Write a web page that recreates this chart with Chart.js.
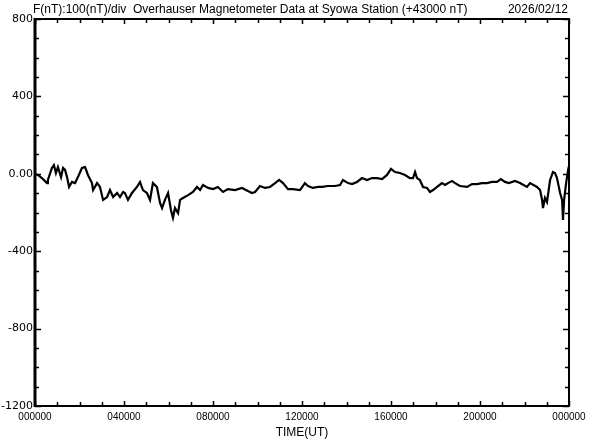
<!DOCTYPE html>
<html>
<head>
<meta charset="utf-8">
<script src="https://cdn.jsdelivr.net/npm/chart.js@4.4.1/dist/chart.umd.min.js"></script>
<style>
  html, body { margin: 0; padding: 0; background: #fff; }
  #wrap { width: 592px; height: 440px; }
</style>
</head>
<body>
<div id="wrap"><canvas id="magChart" width="592" height="440"></canvas></div>
<script>
// Time of day in hours (UT)
const hours = [
  0.00, 0.13, 0.31, 0.54, 0.58, 0.76, 0.85, 0.94, 1.03, 1.17,
  1.26, 1.35, 1.44, 1.53, 1.66, 1.80, 1.93, 2.11, 2.25, 2.38,
  2.56, 2.61, 2.79, 2.92, 3.06, 3.24, 3.37, 3.51, 3.69, 3.82,
  3.96, 4.04, 4.18, 4.36, 4.58, 4.72, 4.85, 5.03, 5.17, 5.30,
  5.48, 5.62, 5.71, 5.84, 5.98, 6.11, 6.20, 6.29, 6.43, 6.52,
  6.65, 6.88, 7.10, 7.28, 7.42, 7.55, 7.78, 8.00, 8.22, 8.45,
  8.67, 8.99, 9.30, 9.57, 9.75, 9.89, 10.11, 10.34, 10.56, 10.79,
  10.97, 11.15, 11.37, 11.60, 11.91, 12.13, 12.27, 12.49, 12.72, 12.90,
  13.17, 13.48, 13.71, 13.84, 14.07, 14.25, 14.47, 14.70, 14.92, 15.15,
  15.37, 15.60, 15.82, 16.00, 16.18, 16.40, 16.63, 16.85, 16.99, 17.08,
  17.17, 17.30, 17.44, 17.62, 17.75, 17.89, 18.07, 18.29, 18.43, 18.56,
  18.74, 18.88, 19.10, 19.42, 19.64, 19.87, 20.09, 20.31, 20.54, 20.76,
  20.94, 21.12, 21.30, 21.57, 21.80, 22.11, 22.25, 22.56, 22.70, 22.79,
  22.83, 22.92, 23.01, 23.15, 23.28, 23.37, 23.46, 23.60, 23.69, 23.73,
  23.78, 23.87, 23.96, 24.00
];

// F - 43000 nT
const fieldNT = [
  -1, -6, -22, -48, -32, 30, 45, 4, 35, -17,
  30, 20, -17, -68, -42, -48, -17, 30, 35, -6,
  -48, -84, -48, -68, -135, -120, -84, -120, -99, -120,
  -94, -99, -135, -99, -68, -42, -84, -99, -135, -48,
  -68, -151, -177, -135, -99, -187, -228, -177, -203, -135,
  -125, -110, -94, -68, -84, -58, -73, -79, -68, -94,
  -79, -84, -73, -89, -99, -94, -63, -73, -68, -48,
  -32, -48, -79, -79, -84, -48, -63, -73, -68, -68,
  -63, -63, -58, -32, -48, -53, -42, -22, -32, -22,
  -22, -27, -6, 25, 9, 4, -6, -22, -22, 9,
  -22, -32, -68, -73, -94, -84, -68, -48, -58, -48,
  -37, -48, -63, -68, -53, -53, -48, -48, -42, -42,
  -27, -42, -48, -37, -48, -68, -48, -68, -84, -135,
  -177, -125, -146, -32, 9, 4, -22, -99, -135, -239,
  -135, -48, 20, 40
];

const yMin = -1200;
const yMax = 800;
const xMin = 0;
const xMax = 24;
const titleText = 'F(nT):100(nT)/div  Overhauser Magnetometer Data at Syowa Station (+43000 nT)';
const dateText = '2026/02/12';
const xAxisTitle = 'TIME(UT)';

const points = hours.map((h, i) => ({ x: h, y: fieldNT[i] }));

// frame, inward ticks and header text
const framePlugin = {
  id: 'frame',
  afterDraw(chart) {
    const { ctx, chartArea: area } = chart;
    const xs = chart.scales.x;
    const ys = chart.scales.y;
    ctx.save();
    ctx.strokeStyle = '#000';
    ctx.lineWidth = 1.5;

    // hour ticks top and bottom
    for (let h = xMin; h <= xMax; h++) {
      const px = Math.round(xs.getPixelForValue(h)) + 0.5;
      const len = h % 4 === 0 ? 5 : 4;
      ctx.beginPath();
      ctx.moveTo(px, area.top);
      ctx.lineTo(px, area.top + len);
      ctx.moveTo(px, area.bottom);
      ctx.lineTo(px, area.bottom - len);
      ctx.stroke();
    }
    // 100 nT ticks left and right
    for (let v = yMin; v <= yMax; v += 100) {
      const py = Math.round(ys.getPixelForValue(v)) + 0.5;
      const len = v % 400 === 0 ? 6 : 4;
      ctx.beginPath();
      ctx.moveTo(area.left, py);
      ctx.lineTo(area.left + len, py);
      ctx.moveTo(area.right, py);
      ctx.lineTo(area.right - len, py);
      ctx.stroke();
    }

    ctx.lineWidth = 2;
    ctx.strokeRect(area.left, area.top, area.right - area.left, area.bottom - area.top);
    ctx.lineWidth = 3;
    ctx.beginPath();
    ctx.moveTo(area.left, area.top - 1);
    ctx.lineTo(area.left, area.bottom + 1);
    ctx.stroke();

    ctx.fillStyle = '#000';
    ctx.font = '12px "Liberation Sans", Arial, sans-serif';
    ctx.textBaseline = 'alphabetic';
    ctx.textAlign = 'left';
    ctx.fillText(titleText, 33, 13);
    ctx.textAlign = 'right';
    ctx.fillText(dateText, area.right - 1, 13);

    ctx.font = '12px "Liberation Sans", Arial, sans-serif';
    ctx.textAlign = 'center';
    ctx.fillText(xAxisTitle, (area.left + area.right) / 2, 436);
    ctx.restore();
  },
};

const chart = new Chart(document.getElementById('magChart'), {
  type: 'line',
  data: {
    datasets: [
      {
        data: points,
        borderColor: '#000',
        borderWidth: 2.2,
        pointRadius: 0,
        tension: 0,
        fill: false,
      },
    ],
  },
  options: {
    responsive: false,
    animation: false,
    devicePixelRatio: 1,
    layout: { padding: { top: 19, right: 23, bottom: 0, left: 0 } },
    plugins: {
      legend: { display: false },
      tooltip: { enabled: false },
    },
    scales: {
      x: {
        type: 'linear',
        min: xMin,
        max: xMax,
        grid: { display: false, drawTicks: false },
        border: { display: false },
        ticks: {
          stepSize: 4,
          padding: 5,
          maxRotation: 0,
          color: '#000',
          font: { family: '"Liberation Sans", Arial, sans-serif', size: 10 },
          callback: (v) => String((v % 24) * 10000).padStart(6, '0'),
        },
        afterFit: (scale) => { scale.height = 34; },
      },
      y: {
        min: yMin,
        max: yMax,
        grid: { display: false, drawTicks: false },
        border: { display: false },
        ticks: {
          stepSize: 400,
          padding: 2,
          color: '#000',
          font: { family: '"DejaVu Sans", sans-serif', size: 11 },
          callback: (v) => (v === 0 ? '0.00' : String(v)),
        },
        afterFit: (scale) => { scale.width = 35; },
      },
    },
  },
  plugins: [framePlugin],
});
</script>
</body>
</html>
